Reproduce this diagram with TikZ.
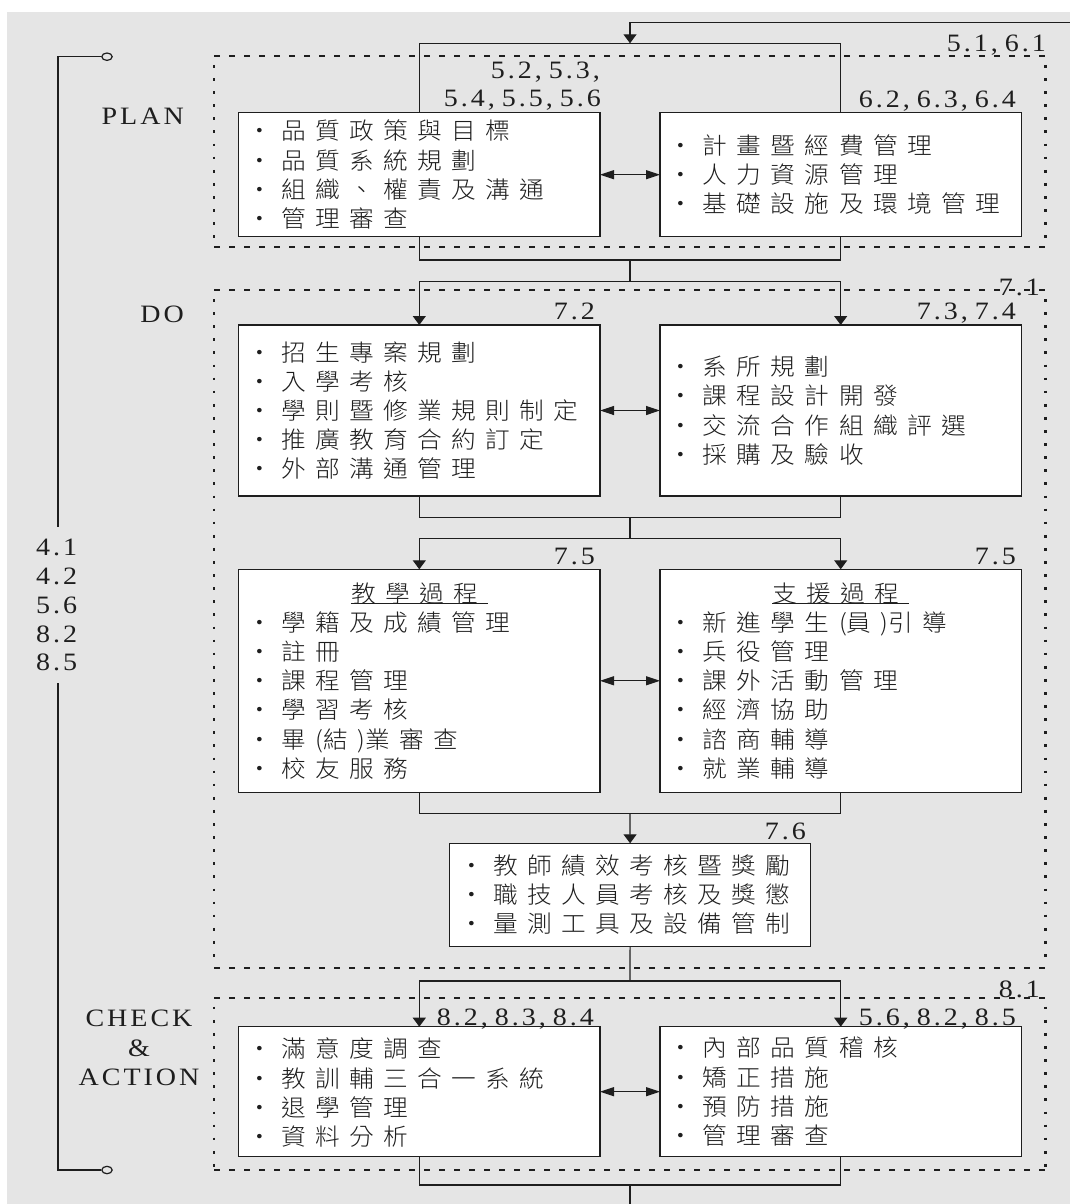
\documentclass[tikz,border=0pt]{standalone}
\usepackage{fontspec}
\setmainfont{Liberation Serif}[FakeStretch=1.12]
\IfFontExistsTF{Noto Sans CJK TC Light}
  {\newfontfamily\cjk{Noto Sans CJK TC Light}[FakeStretch=1.05]}
  {\newfontfamily\cjk{Noto Sans CJK TC}[FakeStretch=1.05]}
\usetikzlibrary{arrows.meta,shapes.geometric}
\definecolor{bg}{RGB}{229,229,229}
\definecolor{ink}{RGB}{30,30,30}
\def\cjkk{9.4pt}
\def\cjkw{24.675pt}
\makeatletter
\def\spc@end{spc@end@unique@marker}
\def\spc@one#1{\ifx(#1#1\else\ifx)#1#1\else\ifx,#1#1\kern\spc@k\kern4pt\else#1\kern\spc@k\fi\fi\fi}
\def\spc@a#1{\ifx#1\spc@end\else\spc@one{#1}\expandafter\spc@a\fi}
\newcommand\spc[2]{\def\spc@k{#1}\spc@a#2\spc@end\unkern}
\newcommand\cjktitle[1]{\def\spc@k{\cjkk}\spc@a#1\spc@end}
\newcommand\lstline{\makebox[\cjkw][c]{·}\kern\cjkk\def\spc@k{\cjkk}\expandafter\spc@a\itm\spc@end\unkern}
\makeatother
\tikzset{
  box/.style={draw=ink, line width=1.3pt, fill=white, anchor=north west, inner sep=0pt, outer sep=0pt, minimum width=361.4pt},
  cline/.style={anchor=west, inner sep=0pt, text height=20.7pt, text depth=2.8pt, font=\cjk\fontsize{23.5}{29}\selectfont, text=ink},
  lab/.style={inner sep=0pt, text height=16.75pt, text depth=0pt, font=\fontsize{25}{29}\selectfont, text=ink},
  conn/.style={draw=ink, line width=1.2pt},
  arr/.style={conn, -{Triangle[length=9pt,width=13pt]}},
  darr/.style={conn, {Triangle[length=14pt,width=9pt]}-{Triangle[length=14pt,width=9pt]}},
  dashh/.style={draw=ink, line width=2pt, dash pattern=on 6pt off 9pt},
  dotv/.style={draw=ink, line width=2.7pt, dash pattern=on 2.7pt off 10.4pt},
  ring/.style={draw=ink, line width=1.2pt, ellipse, minimum width=10.4pt, minimum height=7.4pt, inner sep=0pt, fill=bg},
}
\newcommand\blist[5]{%
  \foreach \itm [count=\i] in {#5} {\node[cline] (#1\i) at (#2,{#3+(\i-1)*#4}) {\lstline};}}
\newcommand\pdcframe[4]{%
  \draw[dashh] (#1,#2) -- (#3,#2);
  \draw[dashh] (#1,#4) -- (#3,#4);
  \draw[dotv] (#1,#2+9) -- (#1,#4-3);
  \draw[dotv] (#3,#2+9) -- (#3,#4-3);}
\begin{document}
\begin{tikzpicture}[x=1pt,y=-1pt]
\useasboundingbox (0,0) rectangle (1070,1204);
\fill[bg] (7,12) rectangle (1070,1204);

% frames
\pdcframe{214}{56}{1045.5}{247.3}
\pdcframe{214}{290}{1045.5}{967.8}
\pdcframe{214}{997.7}{1045.5}{1170}

% boxes
\node[box, minimum height=124pt] (pl) at (238.6,112.7) {};
\node[box, minimum height=124pt] (pr) at (660,112.7) {};
\node[box, minimum height=171pt] (dl) at (238.6,325) {};
\node[box, minimum height=171pt] (dr) at (660,325) {};
\node[box, minimum height=223pt] (tl) at (238.6,569.3) {};
\node[box, minimum height=223pt] (sr) at (660,569.3) {};
\node[box, minimum height=103.4pt] (ev) at (449.4,843.3) {};
\node[box, minimum height=130pt] (cl) at (238.6,1026.7) {};
\node[box, minimum height=130pt] (cr) at (660,1026.7) {};

% connectors
\coordinate (inr) at (1070,22.3);
\coordinate (ptop) at (630,43.3);
\draw[arr] (inr) -| (ptop);
\draw[conn] (pl.north) |- (ptop) -| (pr.north);
\coordinate (pbot) at (630,260);
\coordinate (dsp) at (630,281.7);
\draw[conn] (pl.south) |- (pbot) -| (pr.south);
\draw[conn] (pbot) -- (dsp);
\draw[arr] (dsp) -| (dl.north);
\draw[arr] (dsp) -| (dr.north);
\coordinate (dbot) at (630,517.3);
\coordinate (tsp) at (630,538.7);
\draw[conn] (dl.south) |- (dbot) -| (dr.south);
\draw[conn] (dbot) -- (tsp);
\draw[arr] (tsp) -| (tl.north);
\draw[arr] (tsp) -| (sr.north);
\coordinate (tbot) at (630,813.3);
\draw[conn] (tl.south) |- (tbot) -| (sr.south);
\draw[arr] (tbot) -- (ev.north);
\coordinate (csp) at (630,981);
\draw[conn] (ev.south) -- (csp);
\draw[arr] (csp) -| (cl.north);
\draw[arr] (csp) -| (cr.north);
\coordinate (cbot) at (630,1185);
\coordinate (outb) at (630,1204);
\draw[conn] (cl.south) |- (cbot) -| (cr.south);
\draw[conn] (cbot) -- (outb);
\draw[darr] (pl.east) -- (pr.west);
\draw[darr] (dl.east) -- (dr.west);
\draw[darr] (tl.east) -- (sr.west);
\draw[darr] (cl.east) -- (cr.west);

% left loop
\node[ring] (c1) at (107,56.7) {};
\node[ring] (c2) at (107,1170) {};
\coordinate (la) at (58,56.7);
\coordinate (lb) at (58,527.3);
\coordinate (lc) at (58,683.3);
\coordinate (ld) at (58,1170);
\draw[conn] (c1) -- (la) -- (lb);
\draw[conn] (lc) -- (ld) -- (c2);

% box texts
\blist{plt}{247.1}{130.9}{29.2}{品質政策與目標,品質系統規劃,組織、權責及溝通,管理審查}
\blist{prt}{668.5}{145.5}{29.2}{計畫暨經費管理,人力資源管理,基礎設施及環境管理}
\blist{dlt}{247.1}{352.1}{29.2}{招生專案規劃,入學考核,學則暨修業規則制定,推廣教育合約訂定,外部溝通管理}
\blist{drt}{668.5}{366.7}{29.2}{系所規劃,課程設計開發,交流合作組織評選,採購及驗收}
\blist{tlt}{247.1}{622.4}{29.2}{學籍及成績管理,註冊,課程管理,學習考核,畢(結)業審查,校友服務}
\blist{srt}{668.5}{622.4}{29.2}{新進學生(員)引導,兵役管理,課外活動管理,經濟協助,諮商輔導,就業輔導}
\blist{evt}{458.8}{866}{29}{教師績效考核暨獎勵,職技人員考核及獎懲,量測工具及設備管制}
\blist{clt}{247.1}{1049}{29.2}{滿意度調查,教訓輔三合一系統,退學管理,資料分析}
\blist{crt}{668.5}{1048}{29.2}{內部品質稽核,矯正措施,預防措施,管理審查}

% titles
\node[cline, anchor=center] (tt1) at (419.3,593.2) {\cjktitle{教學過程}};
\node[cline, anchor=center] (tt2) at (840.7,593.2) {\cjktitle{支援過程}};
\draw[conn] ([yshift=2pt]tt1.south west) -- ([yshift=2pt]tt1.south east);
\draw[conn] ([yshift=2pt]tt2.south west) -- ([yshift=2pt]tt2.south east);

% number labels
\node[lab, anchor=east] (n51) at (1046,43.3) {\spc{3pt}{5.1,6.1}};
\node[lab, anchor=east] (n52) at (603,70) {\spc{3pt}{5.2,5.3,}};
\node[lab, anchor=east] (n54) at (601,98.3) {\spc{3pt}{5.4,5.5,5.6}};
\node[lab, anchor=east] (n62) at (1016,99.5) {\spc{3pt}{6.2,6.3,6.4}};
\node[lab, anchor=east] (n71) at (1040,286.7) {\spc{3pt}{7.1}};
\node[lab, anchor=east] (n72) at (595,311) {\spc{3pt}{7.2}};
\node[lab, anchor=east] (n73) at (1016,311) {\spc{3pt}{7.3,7.4}};
\node[lab, anchor=east] (n75a) at (595,555.7) {\spc{3pt}{7.5}};
\node[lab, anchor=east] (n75b) at (1016,555.7) {\spc{3pt}{7.5}};
\node[lab, anchor=east] (n76) at (806,831.5) {\spc{3pt}{7.6}};
\node[lab, anchor=east] (n81) at (1040,989) {\spc{3pt}{8.1}};
\node[lab, anchor=east] (n82) at (594,1016.7) {\spc{3pt}{8.2,8.3,8.4}};
\node[lab, anchor=east] (n56) at (1016,1016.7) {\spc{3pt}{5.6,8.2,8.5}};

% phase labels
\node[lab, anchor=east] (plan) at (184,115.7) {\spc{3pt}{PLAN}};
\node[lab, anchor=east] (do) at (184,314) {\spc{3pt}{DO}};
\node[lab] (chk) at (139,1018.3) {\spc{3pt}{CHECK}};
\node[lab] (amp) at (139,1048) {\&};
\node[lab] (act) at (139,1076.7) {\spc{3pt}{ACTION}};

% clause list
\node[lab, anchor=west] (k1) at (36,547.5) {\spc{3pt}{4.1}};
\node[lab, anchor=west] (k2) at (36,576.3) {\spc{3pt}{4.2}};
\node[lab, anchor=west] (k3) at (36,605) {\spc{3pt}{5.6}};
\node[lab, anchor=west] (k4) at (36,633.8) {\spc{3pt}{8.2}};
\node[lab, anchor=west] (k5) at (36,662.5) {\spc{3pt}{8.5}};
\end{tikzpicture}
\end{document}
